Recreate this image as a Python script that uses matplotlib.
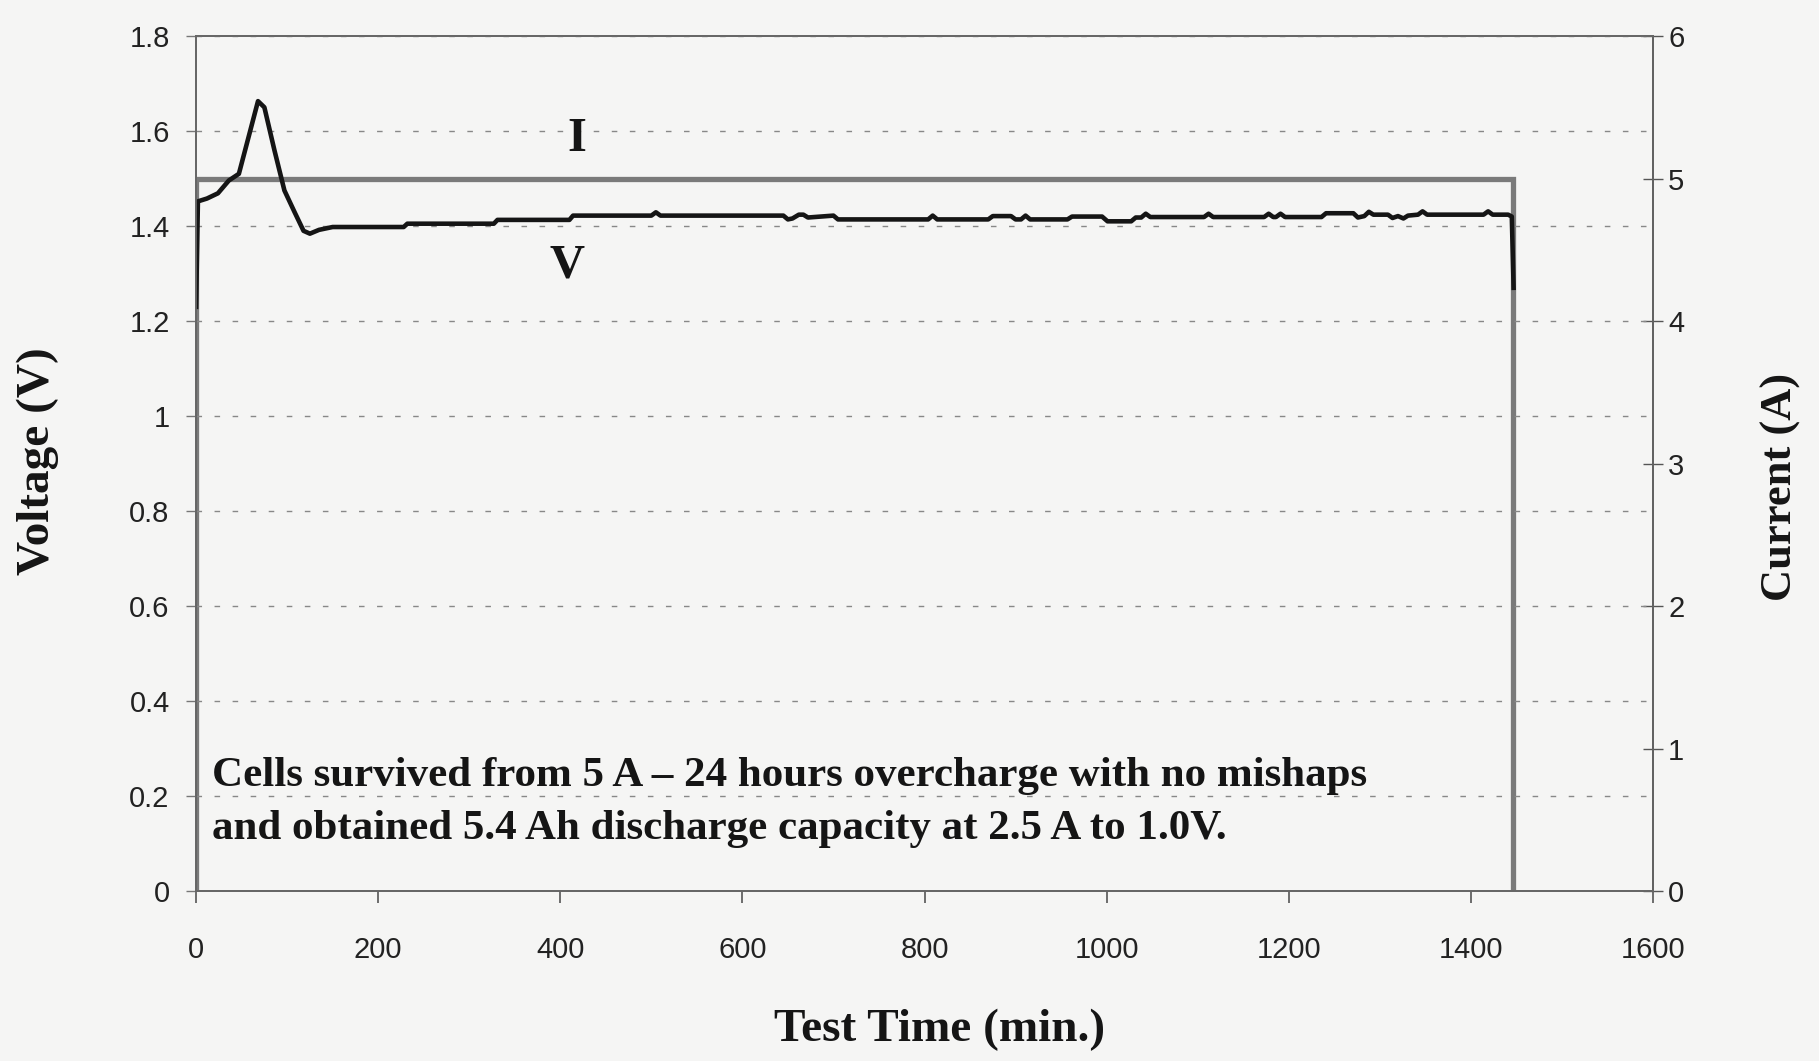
import matplotlib.pyplot as plt
import numpy as np

# test time (min) and cell voltage (V)
time_v = [0, 2, 12, 24, 36, 47, 58, 68, 75, 86, 97, 108, 118, 125, 135, 150,
          228, 232, 327, 331, 410, 414, 500, 505, 510, 645, 650, 655, 662, 667,
          672, 700, 705, 804, 809, 814, 870, 875, 895, 900, 906, 911, 916, 957,
          962, 995, 1001, 1027, 1032, 1038, 1043, 1048, 1107, 1112, 1117, 1173,
          1178, 1183, 1186, 1191, 1196, 1236, 1241, 1271, 1276, 1283, 1288, 1293,
          1309, 1314, 1320, 1326, 1331, 1342, 1347, 1352, 1414, 1419, 1424, 1441,
          1445, 1447]
volt = [1.23, 1.452, 1.458, 1.469, 1.496, 1.51, 1.59, 1.663, 1.65, 1.56, 1.475,
        1.43, 1.39, 1.384, 1.392, 1.398,
        1.398, 1.405, 1.405, 1.413, 1.413, 1.422, 1.422, 1.429, 1.422, 1.422,
        1.414, 1.416, 1.424, 1.424, 1.418, 1.422, 1.414, 1.414, 1.422, 1.414,
        1.414, 1.421, 1.421, 1.414, 1.414, 1.422, 1.414, 1.414,
        1.42, 1.42, 1.41, 1.41, 1.418, 1.418, 1.426, 1.419, 1.419, 1.426, 1.419,
        1.419, 1.426, 1.419, 1.419, 1.426, 1.419, 1.419, 1.427, 1.427, 1.418,
        1.421, 1.43, 1.424, 1.424, 1.417, 1.421, 1.416, 1.422, 1.424, 1.431,
        1.424, 1.424, 1.431, 1.424, 1.424, 1.42, 1.27]

# charge current (A)
time_i = [0, 0, 1446, 1446]
curr = [0, 5.0, 5.0, 0]

xticks = [0, 200, 400, 600, 800, 1000, 1200, 1400, 1600]
vticks = [0, 0.2, 0.4, 0.6, 0.8, 1.0, 1.2, 1.4, 1.6, 1.8]
vlabels = ['0', '0.2', '0.4', '0.6', '0.8', '1', '1.2', '1.4', '1.6', '1.8']
iticks = [0, 1, 2, 3, 4, 5, 6]

note1 = 'Cells survived from 5 A \u2013 24 hours overcharge with no mishaps'
note2 = 'and obtained 5.4 Ah discharge capacity at 2.5 A to 1.0V.'

bg = '#f5f5f4'
serif = 'Liberation Serif'
sans = 'Liberation Sans'

fig = plt.figure(figsize=(18.19, 10.61), dpi=100, facecolor=bg)
ax = fig.add_axes([0.1078, 0.1602, 0.8009, 0.8058])
ax2 = ax.twinx()

# voltage on top of the current trace
ax.set_zorder(ax2.get_zorder() + 1)
ax.patch.set_visible(False)
ax2.set_facecolor(bg)

ax2.plot(time_i, curr, color='#7a7a7a', lw=3.8, solid_joinstyle='miter')
ax.plot(time_v, volt, color='#151515', lw=3.3, solid_joinstyle='round')

ax.set_xlim(0, 1600)
ax.set_ylim(0, 1.8)
ax2.set_ylim(0, 6)
ax.set_xticks(xticks)
ax.set_xticklabels([str(t) for t in xticks], fontsize=21, family=sans, color='#222')
ax.set_yticks(vticks)
ax.set_yticklabels(vlabels, fontsize=21, family=sans, color='#222')
ax2.set_yticks(iticks)
ax2.set_yticklabels([str(t) for t in iticks], fontsize=21, family=sans, color='#222')

ax.tick_params(axis='x', direction='out', length=8.5, width=1.2, color='#555', pad=24)
ax.tick_params(axis='y', direction='out', length=7, width=1.0, color='#777', pad=12)
ax2.tick_params(axis='y', direction='inout', length=14, width=1.0, color='#555', pad=4)

ax.grid(axis='y', color='#888', lw=1.0, linestyle=(0, (4, 9)))

for a in (ax, ax2):
    for s in a.spines.values():
        s.set_color('#666')
        s.set_linewidth(1.3)
ax2.spines['right'].set_color('#333')

ax.text(418, 1.583, 'I', fontsize=35, fontweight='bold', family=serif,
        ha='center', va='center', color='#151515')
ax.text(407, 1.318, 'V', fontsize=35, fontweight='bold', family=serif,
        ha='center', va='center', color='#151515')

ax.text(18, 0.221, note1, fontsize=31, fontweight='bold', family=serif,
        ha='left', va='baseline', color='#151515')
ax.text(18, 0.109, note2, fontsize=31, fontweight='bold', family=serif,
        ha='left', va='baseline', color='#151515')

fig.text(38 / 1819, 1 - 461 / 1061, 'Voltage (V)', rotation=90, fontsize=34,
         fontweight='bold', family=serif, ha='center', va='center', color='#151515')
fig.text(1781 / 1819, 1 - 487 / 1061, 'Current (A)', rotation=90, fontsize=32,
         fontweight='bold', family=serif, ha='center', va='center', color='#151515')
fig.text(940 / 1819, 1 - 1030 / 1061, 'Test Time (min.)', fontsize=34,
         fontweight='bold', family=serif, ha='center', va='center', color='#151515')

fig.savefig('out.png', dpi=100, facecolor=bg)
